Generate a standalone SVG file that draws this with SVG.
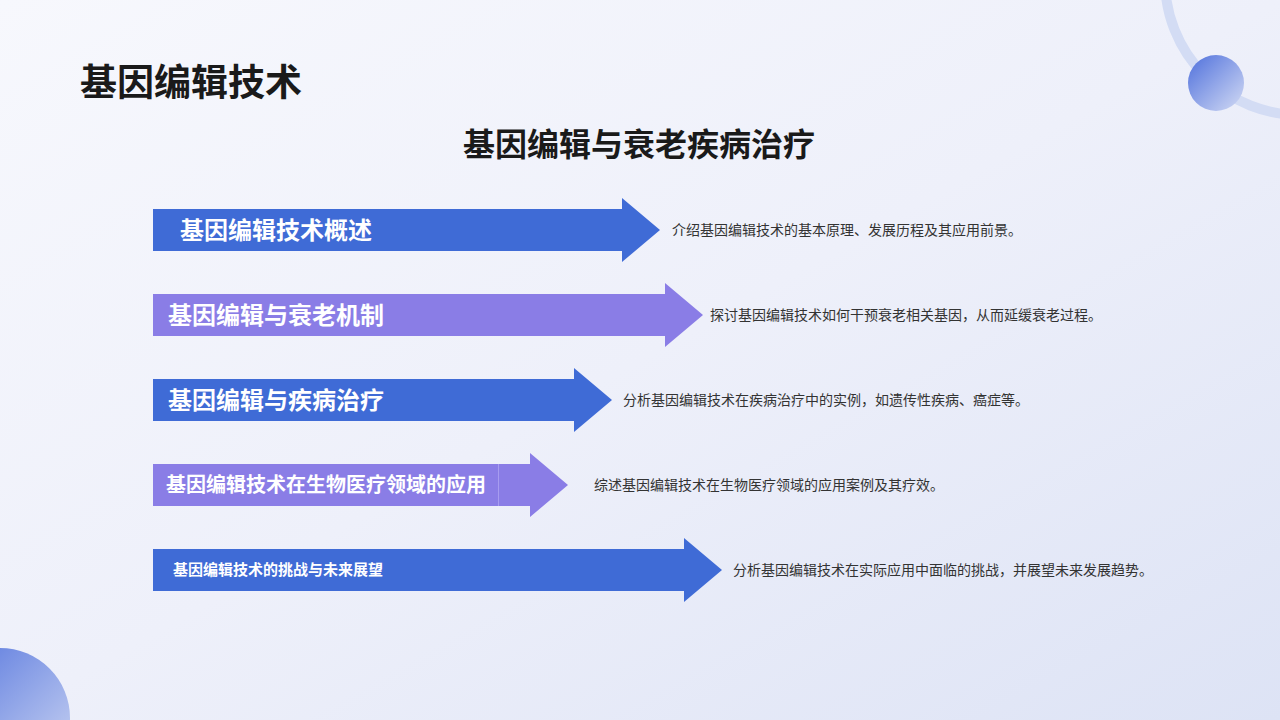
<svg xmlns="http://www.w3.org/2000/svg" width="1280" height="720" viewBox="0 0 1280 720">
<defs>
<linearGradient id="bg" x1="0" y1="0" x2="1" y2="1"><stop offset="0" stop-color="#f7f8fd"/><stop offset="0.5" stop-color="#eef0fa"/><stop offset="1" stop-color="#dde3f5"/></linearGradient>
<linearGradient id="dot" x1="0" y1="0" x2="1" y2="1"><stop offset="0" stop-color="#4f70dc"/><stop offset="1" stop-color="#d3dbf4"/></linearGradient>
<style>
.b{fill:#3f6bd6}.p{fill:#8a7de6}
.lab{font-family:"Noto Sans CJK SC",sans-serif;font-weight:bold;fill:#fff}
.d{font-family:"Noto Sans CJK SC",sans-serif;font-size:14px;fill:#333}
</style>
</defs>
<rect width="1280" height="720" fill="url(#bg)"/>
<circle cx="1300" cy="-20" r="135" fill="none" stroke="#d3dcf4" stroke-width="10"/>
<circle cx="1216" cy="83" r="28" fill="url(#dot)"/>
<circle cx="0" cy="718" r="70" fill="url(#dot)"/>
<text x="80" y="96" font-family="Noto Sans CJK SC,sans-serif" font-weight="bold" font-size="37" fill="#1a1a1a">基因编辑技术</text>
<text x="639" y="156" text-anchor="middle" font-family="Noto Sans CJK SC,sans-serif" font-weight="bold" font-size="32" fill="#1a1a1a">基因编辑与衰老疾病治疗</text>
<g id="n1"><polygon class="b" points="153,209 622,209 622,198 660,230 622,262 622,251 153,251"/><text class="lab" x="180" y="239" font-size="24">基因编辑技术概述</text><text class="d" x="672" y="235">介绍基因编辑技术的基本原理、发展历程及其应用前景。</text></g>
<g id="n2"><polygon class="p" points="153,294 665,294 665,283 703,315 665,347 665,336 153,336"/><text class="lab" x="168" y="324" font-size="24">基因编辑与衰老机制</text><text class="d" x="710" y="320">探讨基因编辑技术如何干预衰老相关基因，从而延缓衰老过程。</text></g>
<g id="n3"><polygon class="b" points="153,379 574,379 574,368 612,400 574,432 574,421 153,421"/><text class="lab" x="168" y="409" font-size="24">基因编辑与疾病治疗</text><text class="d" x="623" y="405">分析基因编辑技术在疾病治疗中的实例，如遗传性疾病、癌症等。</text></g>
<g id="n4"><polygon class="p" points="153,464 530,464 530,453 568,485 530,517 530,506 153,506"/><line x1="498.5" y1="464" x2="498.5" y2="506" stroke="#a79cf0" stroke-width="1"/><text class="lab" x="166" y="492" font-size="20">基因编辑技术在生物医疗领域的应用</text><text class="d" x="594" y="490">综述基因编辑技术在生物医疗领域的应用案例及其疗效。</text></g>
<g id="n5"><polygon class="b" points="153,549 684,549 684,538 722,570 684,602 684,591 153,591"/><text class="lab" x="173" y="575" font-size="15">基因编辑技术的挑战与未来展望</text><text class="d" x="733" y="575">分析基因编辑技术在实际应用中面临的挑战，并展望未来发展趋势。</text></g>
<g id="connectors"/>
</svg>
